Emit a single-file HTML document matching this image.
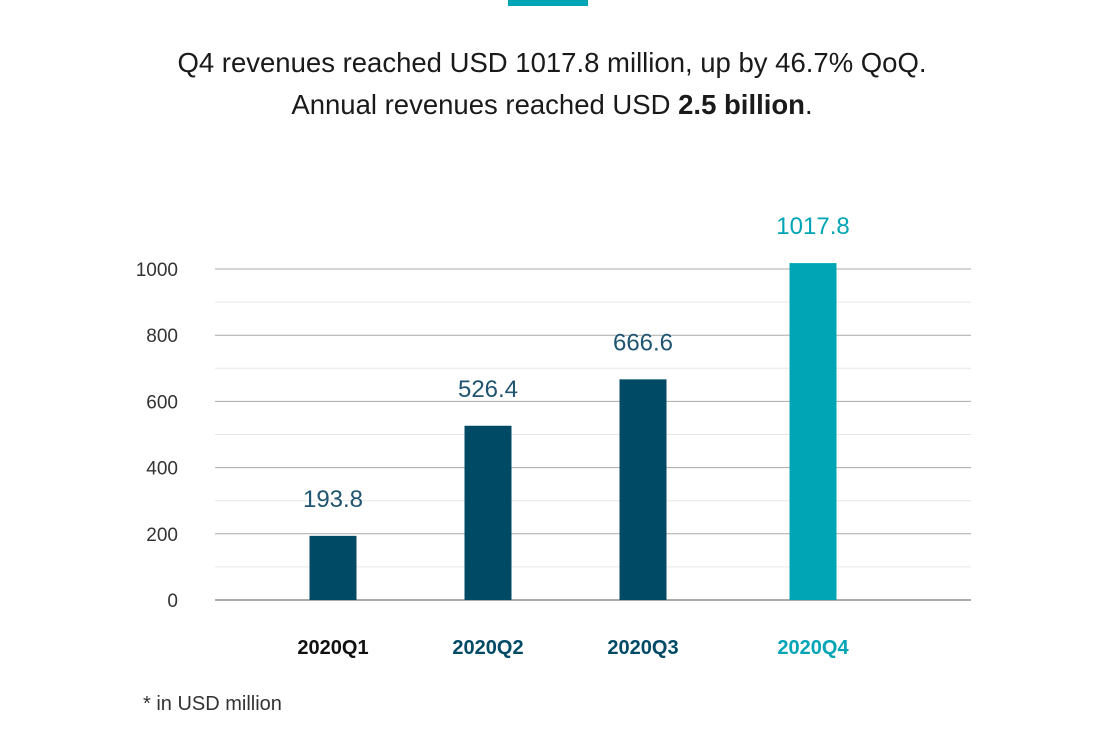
<!DOCTYPE html>
<html><head><meta charset="utf-8"><style>
html,body{margin:0;padding:0;background:#fff;}
body{width:1104px;height:736px;overflow:hidden;position:relative;font-family:"Liberation Sans",sans-serif;}
.title{position:absolute;left:0;width:1104px;text-align:center;font-size:27.5px;color:#1a1a1a;}
</style></head><body>
<div style="position:absolute;left:508px;top:0;width:80px;height:6px;background:#00a5b5"></div>
<div class="title" style="top:47px">Q4 revenues reached USD 1017.8 million, up by 46.7% QoQ.</div>
<div class="title" style="top:89px">Annual revenues reached USD <b>2.5 billion</b>.</div>
<svg id="chart" width="1104" height="736" style="position:absolute;left:0;top:0"></svg>
<div style="position:absolute;left:143px;top:693px;font-size:20px;color:#333">* in USD million</div>
<script>
const categories=["2020Q1","2020Q2","2020Q3","2020Q4"];
const values=[193.8,526.4,666.6,1017.8];
const labels=["193.8","526.4","666.6","1017.8"];
const yTicks=[0,200,400,600,800,1000];
const barColors=["#004a66","#004a66","#004a66","#00a5b5"];
const catColors=["#111111","#004a66","#004a66","#00a5b5"];
const NS="http://www.w3.org/2000/svg";
const svg=document.getElementById('chart');
const y=v=>600-v*(331/1000);
const x=i=>333+i*155+(i===3?15:0);
function mk(t,a){const e=document.createElementNS(NS,t);for(const k in a)e.setAttribute(k,a[k]);svg.appendChild(e);return e;}
for(let v=100;v<=1000;v+=200){const l=mk('line',{x1:215,x2:971,y1:y(v),y2:y(v),stroke:'#e6e6e6','stroke-width':1});
}
yTicks.forEach(v=>{const l=mk('line',{x1:215,x2:971,y1:y(v),y2:y(v),stroke:v===0?'#555':'#aaa','stroke-width':1});

const t=mk('text',{x:178,y:y(v)+7,'text-anchor':'end','font-size':19,fill:'#333'});t.textContent=v;
});
categories.forEach((c,i)=>{
const r=mk('rect',{x:x(i)-23.5,y:y(values[i]),width:47,height:600-y(values[i]),fill:barColors[i]});

const t=mk('text',{x:x(i),y:y(values[i])-29,'text-anchor':'middle','font-size':24,fill:i===3?'#00a5b5':'#1f5570'});t.textContent=labels[i];

const ct=mk('text',{x:x(i),y:654,'text-anchor':'middle','font-size':20,'font-weight':'bold',fill:catColors[i]});ct.textContent=c;

});
</script>
</body></html>
